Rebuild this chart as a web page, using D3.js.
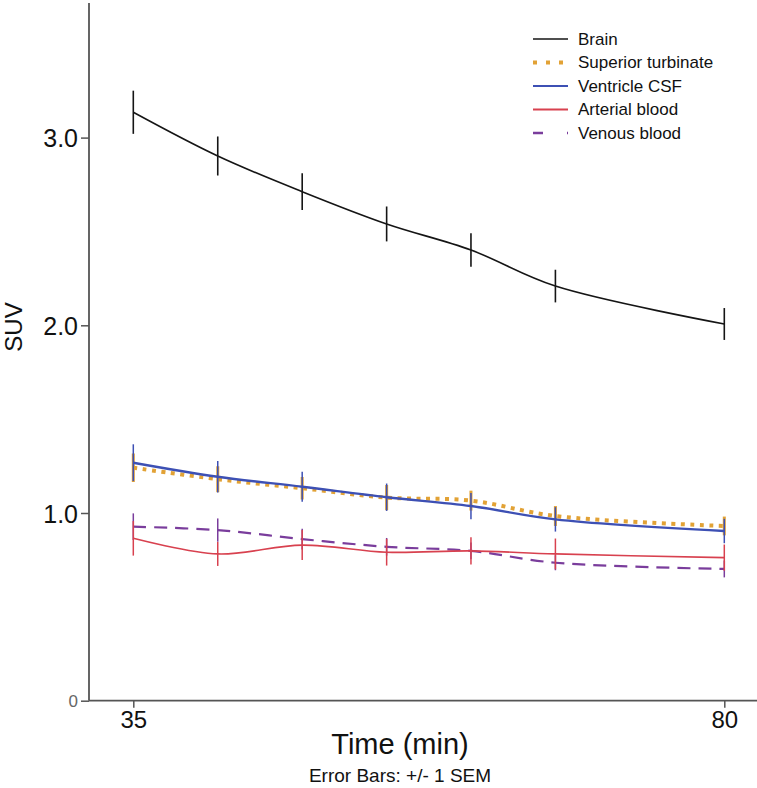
<!DOCTYPE html>
<html><head><meta charset="utf-8">
<script src="https://cdn.jsdelivr.net/npm/d3@7"></script>
<style>body{margin:0;background:#fff}svg{display:block;font-family:"Liberation Sans",Arial,sans-serif}</style>
</head><body><svg id="c" width="757" height="788"></svg>
<script>
const times = [35, 41.43, 47.86, 54.29, 60.71, 67.14, 80];
const brain      = [3.135, 2.902, 2.712, 2.540, 2.401, 2.209, 2.007];
const brainSem   = [0.115, 0.104, 0.098, 0.093, 0.089, 0.087, 0.085];
const turbinate  = [1.241, 1.180, 1.132, 1.082, 1.066, 0.984, 0.931];
const turbSem    = [0.076, 0.069, 0.060, 0.067, 0.053, 0.053, 0.050];
const csf        = [1.268, 1.193, 1.140, 1.084, 1.037, 0.966, 0.904];
const csfSem     = [0.098, 0.084, 0.080, 0.073, 0.070, 0.065, 0.065];
const arterial   = [0.865, 0.782, 0.829, 0.791, 0.798, 0.782, 0.762];
const artSem     = [0.092, 0.064, 0.080, 0.071, 0.073, 0.082, 0.070];
const venous     = [0.927, 0.909, 0.861, 0.820, 0.798, 0.735, 0.702];
const venSem     = [0.071, 0.062, 0.055, 0.047, 0.045, 0.040, 0.045];
const yTicks = [0, 1, 2, 3];
const xTicks = [35, 80];

const series = [
  {name:"Brain", v:brain, e:brainSem, color:"#151515", w:1.6, dash:null, ew:1.6, lw:1.6, ldash:null},
  {name:"Superior turbinate", v:turbinate, e:turbSem, color:"#e2a235", w:4, dash:"4,5.5", ew:3, lw:4, ldash:"4,9"},
  {name:"Ventricle CSF", v:csf, e:csfSem, color:"#3d50b4", w:2.4, dash:null, ew:1.5, lw:2, ldash:null},
  {name:"Arterial blood", v:arterial, e:artSem, color:"#d8414f", w:1.6, dash:null, ew:1.5, lw:2, ldash:null},
  {name:"Venous blood", v:venous, e:venSem, color:"#7a3d9c", w:2.2, dash:"13,8", ew:1.5, lw:2.5, ldash:"10,24"}
];
const drawOrder = [4,3,1,2,0];

const svg = d3.select("#c");
const x = d3.scaleLinear().domain([35,80]).range([133.3,724.3]);
const y = d3.scaleLinear().domain([0,3]).range([700.7,137.6]);

const axCol = "#555";
const yAxis = svg.append("g").attr("transform","translate(89,0)")
  .call(d3.axisLeft(y).tickValues(yTicks).tickSize(8).tickFormat(d => d===0 ? "0" : d.toFixed(1)));
yAxis.select(".domain").remove();
yAxis.selectAll(".tick line").attr("stroke",axCol).attr("stroke-width",1.5);
yAxis.selectAll(".tick text").attr("fill","#111").attr("font-size",25).attr("x",-11).attr("dy","0.36em")
  .filter(d => d===0).attr("font-size",17).attr("fill","#666").attr("dy","0.34em");
svg.append("line").attr("x1",89).attr("x2",89).attr("y1",3).attr("y2",700.7).attr("stroke",axCol).attr("stroke-width",1.8);

const xAxis = svg.append("g").attr("transform","translate(0,700.7)")
  .call(d3.axisBottom(x).tickValues(xTicks).tickSize(7).tickFormat(d3.format("d")));
xAxis.select(".domain").remove();
xAxis.selectAll(".tick line").attr("stroke",axCol).attr("stroke-width",1.5);
xAxis.selectAll(".tick text").attr("fill","#111").attr("font-size",24).attr("y",9).attr("dy","0.75em");
svg.append("line").attr("x1",89).attr("x2",757).attr("y1",700.7).attr("y2",700.7).attr("stroke",axCol).attr("stroke-width",1.8);

const line = d3.line().x((d,i)=>x(times[i])).y(d=>y(d)).curve(d3.curveCatmullRom.alpha(0.5));
drawOrder.forEach(k => {
  const s = series[k];
  const g = svg.append("g");
  g.selectAll("line.err").data(s.v).join("line").attr("class","err")
    .attr("x1",(d,i)=>x(times[i])).attr("x2",(d,i)=>x(times[i]))
    .attr("y1",(d,i)=>y(d - s.e[i])).attr("y2",(d,i)=>y(d + s.e[i]))
    .attr("stroke",s.color).attr("stroke-width",s.ew);
  g.append("path").datum(s.v).attr("d",line).attr("fill","none")
    .attr("stroke",s.color).attr("stroke-width",s.w)
    .attr("stroke-dasharray",s.dash);
});

const lg = svg.append("g");
series.forEach((s,i) => {
  const yy = 39 + i*23.5;
  lg.append("line").attr("x1",533).attr("x2",568).attr("y1",yy).attr("y2",yy)
    .attr("stroke",s.color).attr("stroke-width",s.lw).attr("stroke-dasharray",s.ldash);
  lg.append("text").attr("x",578).attr("y",yy).attr("dy","0.35em").attr("font-size",17).attr("fill","#111").text(s.name);
});

svg.append("text").attr("transform","translate(14,327) rotate(-90)").attr("text-anchor","middle")
  .attr("dy","0.35em").attr("font-size",24).attr("fill","#111").text("SUV");
svg.append("text").attr("x",400).attr("y",754).attr("text-anchor","middle").attr("font-size",29).attr("fill","#111").text("Time (min)");
svg.append("text").attr("x",400).attr("y",782).attr("text-anchor","middle").attr("font-size",19).attr("fill","#111").text("Error Bars: +/- 1 SEM");
</script></body></html>
